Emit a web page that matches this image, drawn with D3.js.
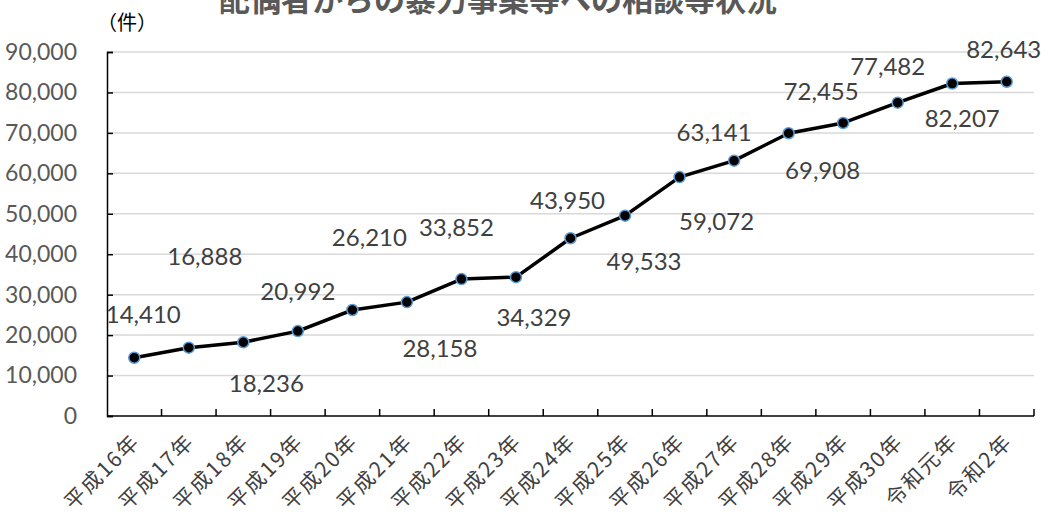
<!DOCTYPE html>
<html>
<head>
<meta charset="utf-8">
<script src="https://cdn.jsdelivr.net/npm/d3@7"></script>
<style>
  body { margin: 0; background: #fff; }
  svg { display: block; }
</style>
</head>
<body>
<div id="chart"></div>
<script>
// data
const years = ["平成16年", "平成17年", "平成18年", "平成19年", "平成20年", "平成21年",
  "平成22年", "平成23年", "平成24年", "平成25年", "平成26年", "平成27年",
  "平成28年", "平成29年", "平成30年", "令和元年", "令和2年"];
const counts = [14410, 16888, 18236, 20992, 26210, 28158, 33852, 34329, 43950,
  49533, 59072, 63141, 69908, 72455, 77482, 82207, 82643];
const yTicks = [0, 10000, 20000, 30000, 40000, 50000, 60000, 70000, 80000, 90000];

// label offsets from each point (px), as placed in the original
const labelDx = [9, 16, 23, 0, 17, 33, -5, 18, -3, 19, 37, -20, 34, -22, -10, 10, -3];
const labelDy = [-43, -91, 41, -39, -72, 46, -51, 40, -38, 46, 45, -28, 37, -31, -36, 35, -32];

const width = 1050, height = 521;
const margin = { top: 52, right: 16, bottom: 105, left: 107 };

const svg = d3.select("#chart").append("svg")
  .attr("width", width)
  .attr("height", height);

const x = d3.scaleBand()
  .domain(years)
  .range([margin.left, width - margin.right])
  .padding(0);

const y = d3.scaleLinear()
  .domain([0, 90000])
  .range([height - margin.bottom, margin.top]);

// title (cut off at top like the original)
svg.append("text")
  .attr("x", 498)
  .attr("y", 11)
  .attr("text-anchor", "middle")
  .attr("font-family", "'Noto Sans CJK JP', sans-serif")
  .attr("font-weight", "bold")
  .attr("font-size", 31)
  .attr("fill", "#595959")
  .text("配偶者からの暴力事案等への相談等状況");

svg.append("text")
  .attr("x", 127)
  .attr("y", 30)
  .attr("text-anchor", "middle")
  .attr("font-family", "'Noto Sans CJK JP', sans-serif")
  .attr("font-size", 20)
  .attr("fill", "#000")
  .text("（件）");

// gridlines
svg.append("g")
  .selectAll("line")
  .data(yTicks.filter(d => d > 0))
  .join("line")
    .attr("x1", margin.left)
    .attr("x2", width - margin.right)
    .attr("y1", d => y(d))
    .attr("y2", d => y(d))
    .attr("stroke", "#d9d9d9")
    .attr("stroke-width", 1.5);

// y axis
const yAxis = svg.append("g")
  .attr("transform", `translate(${margin.left},0)`)
  .call(d3.axisLeft(y).tickValues(yTicks).tickSize(-6).tickPadding(30)
    .tickFormat(d3.format(",")));
yAxis.select(".domain").attr("stroke", "#000").attr("stroke-width", 1.5);
yAxis.selectAll(".tick line").attr("stroke", "#000").attr("stroke-width", 1.5);
yAxis.selectAll("text")
  .attr("font-family", "Lato, 'Liberation Sans', sans-serif")
  .attr("font-size", 23)
  .attr("fill", "#595959");

// x axis
const x0 = y(0);
const xAxis = svg.append("g");
xAxis.append("line")
  .attr("x1", margin.left).attr("x2", width - margin.right)
  .attr("y1", x0).attr("y2", x0)
  .attr("stroke", "#000").attr("stroke-width", 1.5);
xAxis.selectAll(".tk")
  .data(years.map(d => x(d) + x.bandwidth()))
  .join("line")
    .attr("class", "tk")
    .attr("x1", d => d).attr("x2", d => d)
    .attr("y1", x0).attr("y2", x0 - 7)
    .attr("stroke", "#000").attr("stroke-width", 1.5);
xAxis.selectAll("text")
  .data(years)
  .join("text")
    .attr("transform", d => `translate(${x(d) + x.bandwidth() / 2 + 7},${x0 + 27}) rotate(-45)`)
    .attr("text-anchor", "end")
    .attr("font-family", "'Noto Sans CJK JP', sans-serif")
    .attr("font-size", 21)
    .attr("letter-spacing", 2)
    .attr("fill", "#404040")
    .text(d => d);

// line
const cx = (d, i) => x(years[i]) + x.bandwidth() / 2;
svg.append("path")
  .datum(counts)
  .attr("fill", "none")
  .attr("stroke", "#000")
  .attr("stroke-width", 3.5)
  .attr("stroke-linejoin", "round")
  .attr("d", d3.line().x(cx).y(d => y(d)));

svg.append("g")
  .selectAll("circle")
  .data(counts)
  .join("circle")
    .attr("cx", cx)
    .attr("cy", d => y(d))
    .attr("r", 5.5)
    .attr("fill", "#000")
    .attr("stroke", "#5b9bd5")
    .attr("stroke-width", 1.5);

// data labels
svg.append("g")
  .selectAll("text")
  .data(counts)
  .join("text")
    .attr("x", (d, i) => cx(d, i) + labelDx[i])
    .attr("y", (d, i) => y(d) + labelDy[i])
    .attr("dy", "0.35em")
    .attr("text-anchor", "middle")
    .attr("font-family", "Lato, 'Liberation Sans', sans-serif")
    .attr("font-size", 24)
    .attr("fill", "#404040")
    .text(d => d3.format(",")(d));

svg.node();
</script>
</body>
</html>
